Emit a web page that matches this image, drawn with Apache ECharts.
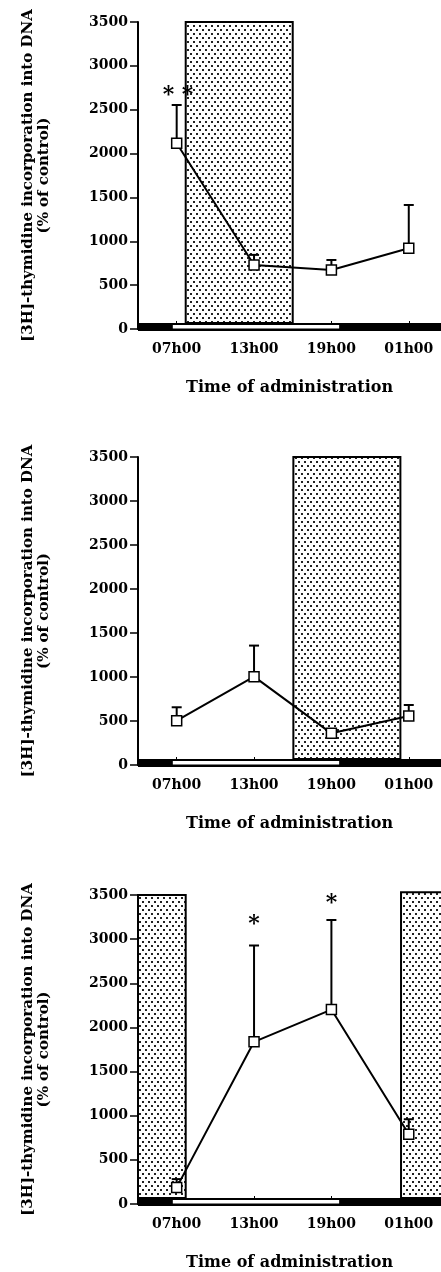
<!DOCTYPE html>
<html><head><meta charset="utf-8">
<script src="https://cdn.jsdelivr.net/npm/echarts@6/dist/echarts.min.js"></script>
<style>html,body{margin:0;padding:0;background:#fff}#c{width:441px;height:1272px}</style>
</head><body><div id="c"></div>
<script>
// ---- data ----
const times = [7, 13, 19, 25];
const timeLabels = ['07h00', '13h00', '19h00', '01h00'];
const xRange = [4, 27.5];
const yMax = 3500;
const yInterval = 500;
const lightPeriod = [6.7, 19.6];

const meanA = [2117, 730, 673, 920];
const errA  = [2554, 845, 787, 1414];
const meanB = [504, 1004, 360, 557];
const errB  = [656, 1357, 360, 682];
const meanC = [188, 1837, 2202, 790];
const errC  = [282, 2928, 3217, 960];

const shadeA = [[7.7, 16.0, 3500]];
const shadeB = [[16.05, 24.35, 3500]];
const shadeC = [[4, 7.7, 3500], [24.4, 28, 3530]];

const starsA = [[7.1, 2660, '* *']];
const starsB = [];
const starsC = [[13, 3170, '*'], [19, 3410, '*']];

const yTitle = '[3H]-thymidine incorporation into DNA\n(% of control)';
const xTitle = 'Time of administration';

// ---- style ----
const FONT = 'DejaVu Serif';
const pc = document.createElement('canvas');
pc.width = 6; pc.height = 8;
const g = pc.getContext('2d');
g.fillStyle = '#fff'; g.fillRect(0, 0, 6, 8);
g.fillStyle = '#222';
g.fillRect(1, 1, 2, 2);
g.fillRect(4, 5, 2, 2);
const pattern = { image: pc, repeat: 'repeat' };

const grids = [
  { left: 138, width: 303, top: 22, height: 307 },
  { left: 138, width: 303, top: 457, height: 308 },
  { left: 138, width: 303, top: 895, height: 310 }
];

const panels = [
  { mean: meanA, err: errA, shade: shadeA, stars: starsA },
  { mean: meanB, err: errB, shade: shadeB, stars: starsB },
  { mean: meanC, err: errC, shade: shadeC, stars: starsC }
];

const xAxes = [], yAxes = [], series = [];
panels.forEach((p, i) => {
  xAxes.push({
    gridIndex: i, type: 'value', min: xRange[0], max: xRange[1],
    splitLine: { show: false },
    axisLine: { show: true, onZero: false, lineStyle: { color: '#000', width: 2 } },
    axisTick: { show: true, inside: true, length: 8, customValues: times, lineStyle: { color: '#000', width: 1 } },
    axisLabel: {
      customValues: times, margin: 13, color: '#000',
      fontFamily: FONT, fontWeight: 'bold', fontSize: 14,
      formatter: v => timeLabels[times.indexOf(v)]
    },
    name: xTitle, nameLocation: 'middle', nameGap: 51,
    nameTextStyle: { color: '#000', fontFamily: FONT, fontWeight: 'bold', fontSize: 16 }
  });
  yAxes.push({
    gridIndex: i, type: 'value', min: 0, max: yMax, interval: yInterval,
    splitLine: { show: false },
    axisLine: { show: true, lineStyle: { color: '#000', width: 2 } },
    axisTick: { show: true, length: 8, lineStyle: { color: '#000', width: 1.5 } },
    axisLabel: { margin: 10, color: '#000', fontFamily: FONT, fontWeight: 'bold', fontSize: 14, formatter: v => String(v) },
    name: yTitle, nameLocation: 'middle', nameGap: 86,
    nameTextStyle: { color: '#000', fontFamily: FONT, fontWeight: 'bold', fontSize: 15, lineHeight: 16, align: 'center' }
  });
  // shaded (dotted) periods
  series.push({
    type: 'custom', xAxisIndex: i, yAxisIndex: i, z: 1, silent: true,
    data: p.shade,
    renderItem: (params, api) => {
      const a = api.coord([api.value(0), api.value(2)]);
      const b = api.coord([api.value(1), 0]);
      return { type: 'rect', shape: { x: a[0], y: a[1], width: b[0] - a[0], height: b[1] - 6 - a[1] },
        style: { fill: pattern, stroke: '#000', lineWidth: 2 } };
    }
  });
  // light/dark bar
  series.push({
    type: 'custom', xAxisIndex: i, yAxisIndex: i, z: 2, silent: true,
    data: [[xRange[0], xRange[1], lightPeriod[0], lightPeriod[1]]],
    renderItem: (params, api) => {
      const a = api.coord([api.value(0), 0]);
      const b = api.coord([api.value(1), 0]);
      const c = api.coord([api.value(2), 0]);
      const d = api.coord([api.value(3), 0]);
      return { type: 'group', children: [
        { type: 'rect', shape: { x: a[0], y: a[1] - 6, width: b[0] - a[0], height: 8 }, style: { fill: '#000' } },
        { type: 'rect', shape: { x: c[0], y: c[1] - 4, width: d[0] - c[0], height: 3.5 }, style: { fill: '#fff' } }
      ] };
    }
  });
  // error bars
  series.push({
    type: 'custom', xAxisIndex: i, yAxisIndex: i, z: 3, silent: true,
    data: times.map((t, k) => [t, p.mean[k], p.err[k]]),
    renderItem: (params, api) => {
      const m = api.coord([api.value(0), api.value(1)]);
      const h = api.coord([api.value(0), api.value(2)]);
      if (api.value(2) <= api.value(1)) return { type: 'group', children: [] };
      return { type: 'group', children: [
        { type: 'line', shape: { x1: m[0], y1: m[1], x2: h[0], y2: h[1] }, style: { stroke: '#000', lineWidth: 2 } },
        { type: 'line', shape: { x1: h[0] - 5, y1: h[1], x2: h[0] + 5, y2: h[1] }, style: { stroke: '#000', lineWidth: 2 } }
      ] };
    }
  });
  // means
  series.push({
    type: 'line', xAxisIndex: i, yAxisIndex: i, z: 5, silent: true,
    data: times.map((t, k) => [t, p.mean[k]]),
    symbol: 'rect', symbolSize: 10, showSymbol: true,
    lineStyle: { color: '#000', width: 2 },
    itemStyle: { color: '#fff', borderColor: '#000', borderWidth: 1.5 },
    animation: false
  });
  // significance stars
  series.push({
    type: 'custom', xAxisIndex: i, yAxisIndex: i, z: 6, silent: true,
    data: p.stars,
    renderItem: (params, api) => {
      const c = api.coord([api.value(0), api.value(1)]);
      return { type: 'text', x: c[0], y: c[1],
        style: { text: p.stars[params.dataIndex][2], fill: '#000', font: 'bold 22px "DejaVu Serif"', align: 'center', verticalAlign: 'middle' } };
    }
  });
});

const chart = echarts.init(document.getElementById('c'), null, { renderer: 'canvas' });
chart.setOption({
  animation: false,
  backgroundColor: '#fff',
  grid: grids,
  xAxis: xAxes,
  yAxis: yAxes,
  series: series
});
</script>
</body></html>
